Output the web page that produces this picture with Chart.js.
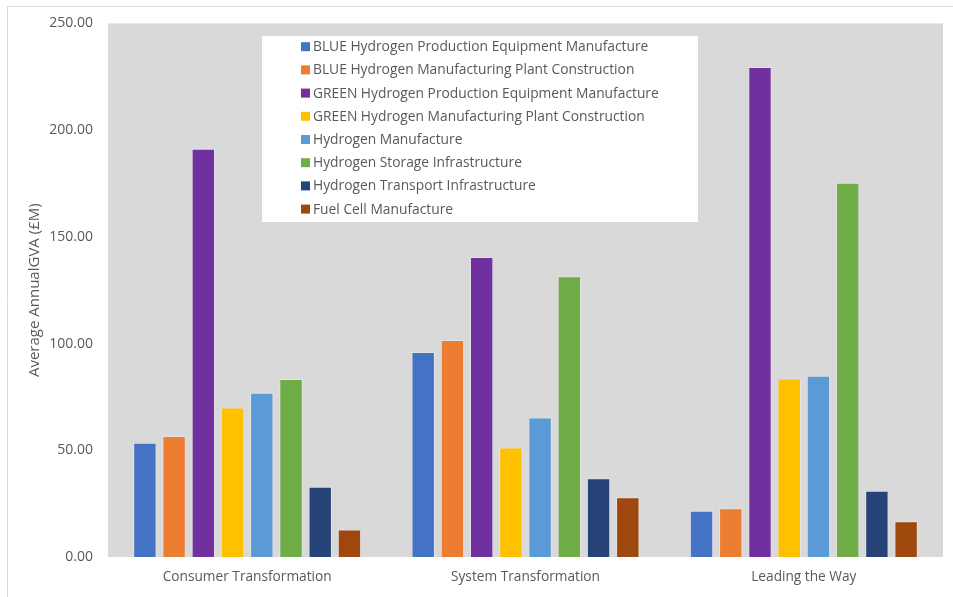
<!DOCTYPE html>
<html>
<head>
<meta charset="utf-8">
<script src="https://cdn.jsdelivr.net/npm/chart.js@4.4.1/dist/chart.umd.min.js"></script>
<style>
  html, body { margin: 0; padding: 0; background: #fff; }
  #wrap { position: relative; width: 953px; height: 597px; }
</style>
</head>
<body>
<div id="wrap"><canvas id="gvaChart" width="953" height="597"></canvas></div>
<script>
const escenarios = ["Consumer Transformation", "System Transformation", "Leading the Way"];

const series = [
  "BLUE Hydrogen Production Equipment Manufacture",
  "BLUE Hydrogen Manufacturing Plant Construction",
  "GREEN Hydrogen Production Equipment Manufacture",
  "GREEN Hydrogen Manufacturing Plant Construction",
  "Hydrogen Manufacture",
  "Hydrogen Storage Infrastructure",
  "Hydrogen Transport Infrastructure",
  "Fuel Cell Manufacture"
];

const colores = ["#4472C4", "#ED7D31", "#7030A0", "#FFC000", "#5B9BD5", "#70AD47", "#264478", "#9E480E"];

// one array per sector, values in the order of escenarios
const blueEquipo = [53.5, 96.0, 21.7];
const bluePlanta = [56.7, 101.7, 22.8];
const greenEquipo = [191.3, 140.5, 229.6];
const greenPlanta = [70.0, 51.3, 83.6];
const manufactura = [77.0, 65.4, 84.9];
const almacenamiento = [83.4, 131.5, 175.4];
const transporte = [32.9, 36.9, 31.0];
const pilaCombustible = [12.9, 28.0, 16.7];

const valores = [blueEquipo, bluePlanta, greenEquipo, greenPlanta, manufactura, almacenamiento, transporte, pilaCombustible];

const yTicks = [0, 50, 100, 150, 200, 250];

const FONT = "'Open Sans', sans-serif";
const GRIS_TEXTO = "#595959";

// gray plot area and the thin outer frame
const fondo = {
  id: "fondo",
  beforeDraw(chart) {
    const { ctx, chartArea: a } = chart;
    ctx.save();
    ctx.fillStyle = "#fff";
    ctx.fillRect(0, 0, chart.width, chart.height);
    ctx.strokeStyle = "#d9d9d9";
    ctx.lineWidth = 1;
    ctx.beginPath();
    ctx.moveTo(7.5, chart.height);
    ctx.lineTo(7.5, 6.5);
    ctx.lineTo(chart.width, 6.5);
    ctx.stroke();
    ctx.fillStyle = "#d9d9d9";
    ctx.fillRect(a.left, a.top, a.right - a.left, a.bottom - a.top);
    ctx.restore();
  }
};

// white legend box floating inside the plot
const leyenda = {
  id: "leyenda",
  afterDatasetsDraw(chart) {
    const { ctx } = chart;
    const x0 = 262, y0 = 36, w = 436, h = 186;
    ctx.save();
    ctx.fillStyle = "#fff";
    ctx.fillRect(x0, y0, w, h);
    ctx.font = "13.8px " + FONT;
    ctx.textBaseline = "middle";
    chart.data.datasets.forEach((ds, i) => {
      const y = 46.7 + i * 23.2;
      ctx.fillStyle = ds.backgroundColor;
      ctx.fillRect(301, y - 4.5, 9, 9);
      ctx.fillStyle = GRIS_TEXTO;
      ctx.fillText(ds.label, 313, y + 0.5);
    });
    ctx.restore();
  }
};

new Chart(document.getElementById("gvaChart"), {
  type: "bar",
  data: {
    labels: escenarios,
    datasets: series.map((nombre, i) => ({
      label: nombre,
      data: valores[i],
      backgroundColor: colores[i],
      borderColor: "rgba(255,255,255,0.3)",
      borderWidth: 1,
      categoryPercentage: 0.84,
      barPercentage: 0.8
    }))
  },
  options: {
    responsive: false,
    animation: false,
    layout: { padding: { top: 22, right: 10, left: 0, bottom: 0 } },
    plugins: {
      legend: { display: false },
      tooltip: { enabled: false }
    },
    scales: {
      x: {
        grid: { display: false, drawTicks: false },
        border: { display: false },
        ticks: { color: GRIS_TEXTO, font: { family: FONT, size: 13.7 }, padding: 12 },
        afterFit(scale) { scale.height = 40; }
      },
      y: {
        min: 0,
        max: 250,
        afterBuildTicks(scale) { scale.ticks = yTicks.map(v => ({ value: v })); },
        grid: { display: false, drawTicks: false },
        border: { display: false },
        ticks: {
          color: GRIS_TEXTO,
          font: { family: FONT, size: 14 },
          padding: 15,
          callback: v => v.toFixed(2)
        },
        title: {
          display: true,
          text: "Average AnnualGVA (£M)",
          color: GRIS_TEXTO,
          font: { family: FONT, size: 15 },
          padding: { top: 26, bottom: 0 }
        },
        afterFit(scale) { scale.width = 108; }
      }
    }
  },
  plugins: [fondo, leyenda]
});
</script>
</body>
</html>
